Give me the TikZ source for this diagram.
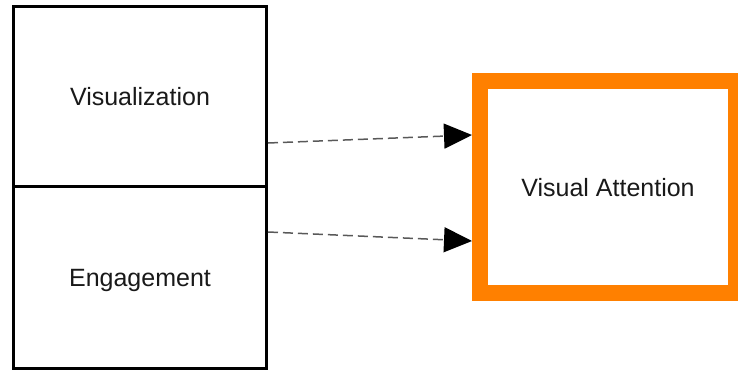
\documentclass[tikz,border=0pt]{standalone}
\usepackage{fontspec}
\setmainfont{Liberation Sans}
\usetikzlibrary{arrows.meta}
\tikzset{
  blockbox/.style={draw=black, line width=3pt, fill=white, inner sep=0pt, minimum width=253pt, font=\fontsize{25}{30}\selectfont, text=black!90, text depth=0pt},
  focusbox/.style={draw={rgb,255:red,255;green,128;blue,0}, line width=16pt, fill=white, inner sep=0pt, minimum width=256pt, minimum height=212pt, font=\fontsize{25}{30}\selectfont, text=black!90, text depth=0pt},
  link/.style={draw=black!65, line width=1.5pt, dash pattern=on 10pt off 5pt, -{Triangle[length=28pt,width=25pt,black]}}
}
\begin{document}
\begin{tikzpicture}[x=1pt,y=-1pt]
\useasboundingbox (0,0) rectangle (738,372);
\node[blockbox, minimum height=180pt] (vis) at (140,96.5) {Visualization};
\node[blockbox, minimum height=182pt] (eng) at (140,277.5) {Engagement};
\node[focusbox] (att) at (608,187) {Visual Attention};
\draw[link] ([yshift=-46.5pt]vis.east) -- ([yshift=52pt]att.west);
\draw[link] ([yshift=45.5pt]eng.east) -- ([yshift=-54pt]att.west);
\end{tikzpicture}
\end{document}
